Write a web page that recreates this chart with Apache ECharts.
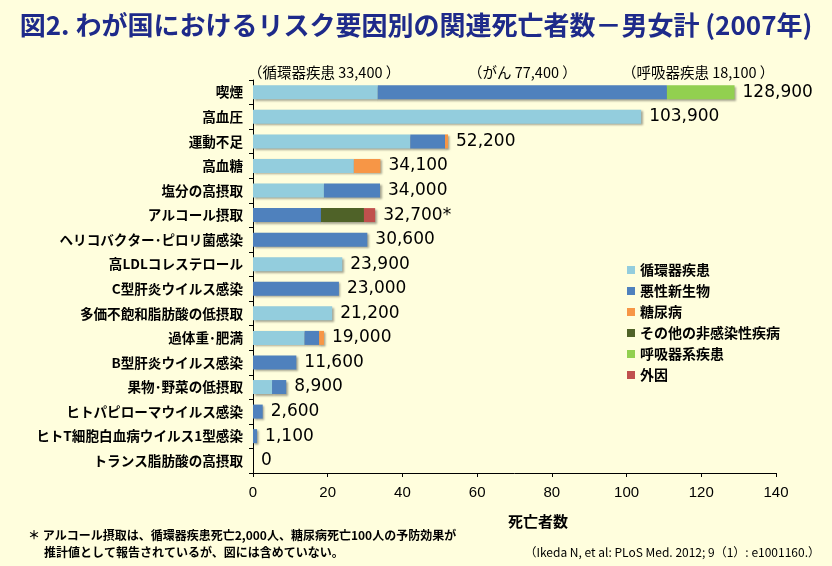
<!DOCTYPE html>
<html><head><meta charset="utf-8">
<script src="https://cdn.jsdelivr.net/npm/echarts@6/dist/echarts.min.js"></script>
<style>html,body{margin:0;padding:0;background:#FFFEDD;}#c{width:832px;height:566px;}</style>
</head><body><div id="c"></div>
<script>
const categories = ['喫煙','高血圧','運動不足','高血糖','塩分の高摂取','アルコール摂取','ヘリコバクター･ピロリ菌感染','高LDLコレステロール','C型肝炎ウイルス感染','多価不飽和脂肪酸の低摂取','過体重･肥満','B型肝炎ウイルス感染','果物･野菜の低摂取','ヒトパピローマウイルス感染','ヒトT細胞白血病ウイルス1型感染','トランス脂肪酸の高摂取'];
// values in thousands of deaths
const circulatory = [33.4,103.9,42.1,27.0,19.0,0,0,23.9,0,21.2,13.8,0,5.1,0,0,0];
const neoplasm    = [77.4,0,9.3,0,15.0,18.2,30.6,0,23.0,0,3.9,11.6,3.8,2.6,1.1,0];
const diabetes    = [0,0,0.8,7.1,0,0,0,0,0,0,1.3,0,0,0,0,0];
const otherNCD    = [0,0,0,0,0,11.5,0,0,0,0,0,0,0,0,0,0];
const respiratory = [18.1,0,0,0,0,0,0,0,0,0,0,0,0,0,0,0];
const injury      = [0,0,0,0,0,3.0,0,0,0,0,0,0,0,0,0,0];
const totalLabels = ['128,900','103,900','52,200','34,100','34,000','32,700*','30,600','23,900','23,000','21,200','19,000','11,600','8,900','2,600','1,100','0'];
const seriesNames = ['循環器疾患','悪性新生物','糖尿病','その他の非感染性疾病','呼吸器系疾患','外因'];
const seriesData = [circulatory, neoplasm, diabetes, otherNCD, respiratory, injury];
const colors = ['#93CDDD','#4F81BD','#F79646','#4F6228','#92D050','#C0504D'];
const xTicks = [0,20,40,60,80,100,120,140];

const chart = echarts.init(document.getElementById('c'));
const shadow = {shadowColor:'rgba(0,0,0,0.35)', shadowBlur:2, shadowOffsetX:1.5, shadowOffsetY:1.5};
const series = seriesNames.map((n,i)=>({
  name:n, type:'bar', stack:'t', barWidth:14,
  data: seriesData[i].map(v=>v===0?null:v),
  itemStyle:Object.assign({color:colors[i]}, shadow),
  emphasis:{disabled:true}
}));
series.push({
  name:'total', type:'bar', stack:'t', barWidth:14,
  data: categories.map(()=>0),
  itemStyle:{color:'transparent'},
  label:{show:true, position:'right', distance:8,
    formatter:p=>totalLabels[p.dataIndex],
    fontFamily:'DejaVu Sans', fontSize:17, color:'#000'},
  emphasis:{disabled:true}
});

const annStyle = {fontSize:14.5, fill:'#000', fontFamily:'Noto Sans CJK JP'};
chart.setOption({
  backgroundColor:'#FFFEDD',
  animation:false,
  color:colors,
  title:{
    text:'図2. わが国におけるリスク要因別の関連死亡者数－男女計 (2007年)',
    left:'center', top:7,
    textStyle:{color:'#1E2A8A', fontSize:26, fontWeight:'bold', fontFamily:'Noto Sans CJK JP'}
  },
  legend:{
    data:seriesNames, orient:'vertical', left:622, top:258,
    itemWidth:8, itemHeight:8, itemGap:7, icon:'rect',
    textStyle:{fontSize:14, fontWeight:'bold', color:'#000', fontFamily:'Noto Sans CJK JP', lineHeight:14}
  },
  grid:{left:253, top:80, right:56, bottom:93, containLabel:false},
  xAxis:{
    type:'value', min:0, max:140, interval:20,
    axisLine:{show:true, lineStyle:{color:'#000', width:1}},
    axisTick:{show:true, length:4, lineStyle:{color:'#000'}},
    splitLine:{show:false},
    axisLabel:{fontSize:15, color:'#000', margin:12, fontFamily:'Liberation Sans, Arial, sans-serif',
      formatter:v=>xTicks.includes(v)?String(v):''}
  },
  yAxis:{
    type:'category', data:categories, inverse:true,
    axisLine:{show:true, lineStyle:{color:'#000', width:1}},
    axisTick:{show:true, length:4, lineStyle:{color:'#000'}},
    axisLabel:{fontSize:13.6, fontWeight:'bold', color:'#000', margin:10, fontFamily:'Noto Sans CJK JP'}
  },
  graphic:[
    {type:'text', left:248, top:65, style:Object.assign({text:'（循環器疾患 33,400 ）'}, annStyle)},
    {type:'text', left:468, top:65, style:Object.assign({text:'（がん 77,400 ）'}, annStyle)},
    {type:'text', left:622, top:65, style:Object.assign({text:'（呼吸器疾患 18,100 ）'}, annStyle)},
    {type:'text', x:538, y:521, style:{text:'死亡者数', fontSize:15, fontWeight:'bold', fill:'#000', align:'center', verticalAlign:'middle', fontFamily:'Noto Sans CJK JP'}},
    {type:'text', left:28, top:529, style:{text:'＊ アルコール摂取は、循環器疾患死亡2,000人、糖尿病死亡100人の予防効果が', fontSize:12, fontWeight:'bold', fill:'#000', fontFamily:'Noto Sans CJK JP'}},
    {type:'text', left:44, top:546, style:{text:'推計値として報告されているが、図には含めていない。', fontSize:12, fontWeight:'bold', fill:'#000', fontFamily:'Noto Sans CJK JP'}},
    {type:'text', right:12, top:546, style:{text:'（Ikeda N, et al: PLoS Med. 2012; 9（1）: e1001160.）', fontSize:12, fill:'#000', fontFamily:'Noto Sans CJK JP'}}
  ],
  series:series
});
</script></body></html>
